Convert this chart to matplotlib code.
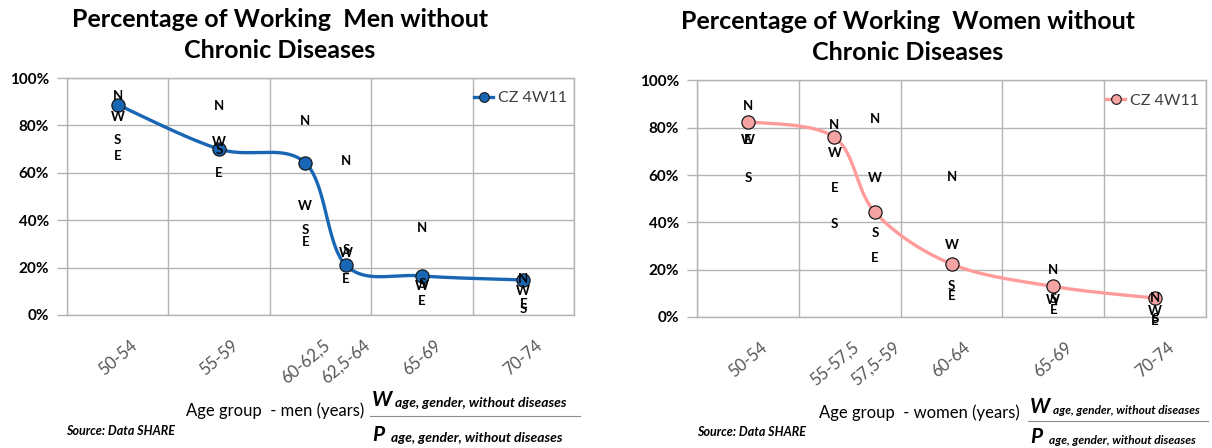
"""Share of working men and women without chronic diseases by age group (CZ, SHARE wave 4)."""

import numpy as np
import matplotlib
matplotlib.use("Agg")
import matplotlib.pyplot as plt
from matplotlib.ticker import FuncFormatter, MultipleLocator

plt.rcParams["font.family"] = ["Lato", "DejaVu Sans"]

# --- men -------------------------------------------------------------------
MEN_GROUPS = ["50-54", "55-59", "60-62,5", "62,5-64", "65-69", "70-74"]
MEN_AGE = [52.5, 57.5, 61.75, 63.75, 67.5, 72.5]
MEN_CZ = [88.7, 70.0, 64.2, 21.0, 16.5, 14.8]
MEN_N = [92.5, 88.0, 82.0, 65.0, 36.5, 15.0]
MEN_W = [83.7, 73.0, 46.0, 26.0, 12.3, 10.3]
MEN_S = [74.0, 69.5, 36.0, 27.5, 13.0, 2.5]
MEN_E = [67.0, 60.0, 31.0, 15.0, 6.0, 4.6]

# --- women -----------------------------------------------------------------
WOMEN_GROUPS = ["50-54", "55-57,5", "57,5-59", "60-64", "65-69", "70-74"]
WOMEN_AGE = [52.5, 56.75, 58.75, 62.5, 67.5, 72.5]
WOMEN_CZ = [82.6, 76.0, 44.2, 22.4, 12.9, 8.0]
WOMEN_N = [89.3, 81.2, 83.6, 59.4, 19.7, 8.0]
WOMEN_W = [75.0, 69.5, 58.7, 30.5, 7.3, 2.4]
WOMEN_S = [58.7, 39.3, 35.7, 12.9, 7.7, -1.0]
WOMEN_E = [75.0, 54.5, 25.0, 8.7, 3.1, -1.5]

SERIES_LABEL = "CZ 4W11"
GRID = "#b3b3b3"


def smooth(xs, ys, n=40):
    """Catmull-Rom style smoothing like a spreadsheet 'smoothed line'."""
    p = np.column_stack([xs, ys]).astype(float)
    p = np.vstack([p[0], p, p[-1]])
    out = []
    t = np.linspace(0, 1, n)[:, None]
    for i in range(1, len(p) - 2):
        p0, p1, p2, p3 = p[i - 1], p[i], p[i + 1], p[i + 2]
        c1 = p1 + (p2 - p0) / 6.0
        c2 = p2 - (p3 - p1) / 6.0
        seg = ((1 - t) ** 3) * p1 + 3 * ((1 - t) ** 2) * t * c1 + 3 * (1 - t) * t ** 2 * c2 + t ** 3 * p2
        out.append(seg if i == 1 else seg[1:])
    seg = np.vstack(out)
    return seg[:, 0], seg[:, 1]


def draw_panel(ax, ages, groups, cz, regions, line_color, face_color):
    sx, sy = smooth(ages, cz)
    ax.plot(sx, sy, color=line_color, lw=2.4, zorder=3, solid_capstyle="round")
    ax.plot(ages, cz, ls="none", marker="o", ms=9.5, mfc=face_color, mec="#1a1a1a",
            mew=0.9, zorder=4)
    # legend handle: line + marker
    ax.plot([], [], color=line_color, lw=2.4, marker="o", ms=7, mfc=face_color,
            mec="#1a1a1a", mew=0.8, label=SERIES_LABEL)

    for letter, vals in regions:
        for x, v in zip(ages, vals):
            ax.text(x, v, letter, ha="center", va="center", fontsize=9.5,
                    fontweight="bold", color="black", zorder=5, clip_on=False)

    ax.set_xlim(50, 75)
    ax.set_ylim(0, 100)
    ax.xaxis.set_major_locator(MultipleLocator(5))
    ax.xaxis.set_major_formatter(FuncFormatter(lambda v, p: ""))
    ax.set_xticks(ages, groups, minor=True)
    ax.tick_params(axis="x", which="both", length=0)
    ax.tick_params(axis="x", which="minor", pad=16, labelsize=12, labelcolor="#555555")
    for lbl in ax.get_xticklabels(minor=True):
        lbl.set_rotation(40)
        lbl.set_ha("center")
        lbl.set_va("top")

    ax.yaxis.set_major_locator(MultipleLocator(20))
    ax.yaxis.set_major_formatter(FuncFormatter(lambda v, p: f"{v:.0f}%"))
    ax.tick_params(axis="y", length=7, width=1, color=GRID, pad=6, labelsize=11)
    for lbl in ax.get_yticklabels():
        lbl.set_fontweight("bold")

    ax.grid(True, which="major", color=GRID, lw=1)
    ax.set_axisbelow(True)
    for sp in ax.spines.values():
        sp.set_color(GRID)
        sp.set_linewidth(1)

    ax.legend(loc="upper right", bbox_to_anchor=(1.005, 0.985), frameon=False,
              fontsize=11.5, labelcolor="#404040", handlelength=1.2,
              handletextpad=0.3, borderaxespad=0.2)


def fraction(fig, x0, x1, y_w, y_bar, y_p, sub_size):
    W, H = fig.get_size_inches() * fig.dpi
    fx = lambda px: px / W
    fy = lambda py: 1 - py / H
    kw = dict(fontweight="bold", style="italic", color="black", va="center")
    fig.text(fx(x0 + 2), fy(y_w), "W", fontsize=15, ha="left", **kw)
    fig.text(fx(x0 + 25), fy(y_w + 3), "age, gender, without diseases", fontsize=sub_size,
             ha="left", **kw)
    fig.text(fx(x0 + 2), fy(y_p), "P", fontsize=15, ha="left", **kw)
    fig.text(fx(x0 + 21), fy(y_p + 3), "age, gender, without diseases", fontsize=sub_size,
             ha="left", **kw)
    fig.add_artist(plt.Line2D([fx(x0), fx(x1)], [fy(y_bar), fy(y_bar)],
                              color="#8c8c8c", lw=0.8))


fig = plt.figure(figsize=(12.12, 4.48), dpi=100)
W, H = 1212, 448

ax_m = fig.add_axes([67 / W, 1 - 315 / H, 507 / W, 237 / H])
ax_w = fig.add_axes([697 / W, 1 - 317 / H, 509 / W, 236.5 / H])

draw_panel(ax_m, MEN_AGE, MEN_GROUPS, MEN_CZ,
           [("N", MEN_N), ("W", MEN_W), ("S", MEN_S), ("E", MEN_E)],
           "#1866b4", "#1866b4")
draw_panel(ax_w, WOMEN_AGE, WOMEN_GROUPS, WOMEN_CZ,
           [("N", WOMEN_N), ("W", WOMEN_W), ("S", WOMEN_S), ("E", WOMEN_E)],
           "#ff9b9b", "#f6a3a3")

title_kw = dict(fontsize=18, fontweight="bold", ha="center", va="center",
                linespacing=1.45)
fig.text(280 / W, 1 - 35 / H, "Percentage of Working  Men without\nChronic Diseases", **title_kw)
fig.text(908 / W, 1 - 37 / H, "Percentage of Working  Women without\nChronic Diseases", **title_kw)

fig.text(275 / W, 1 - 411 / H, "Age group  - men (years)", fontsize=12,
         ha="center", va="center")
fig.text(919 / W, 1 - 413 / H, "Age group  - women (years)", fontsize=12,
         ha="center", va="center")

src_kw = dict(fontsize=9, fontweight="bold", style="italic", ha="left", va="center")
fig.text(66 / W, 1 - 431 / H, "Source: Data SHARE", **src_kw)
fig.text(697 / W, 1 - 432 / H, "Source: Data SHARE", **src_kw)

fraction(fig, 370, 580, 400, 416, 435, 10)
fraction(fig, 1028, 1208, 407, 421, 437, 8.6)

fig.savefig("out.png", dpi=100)
